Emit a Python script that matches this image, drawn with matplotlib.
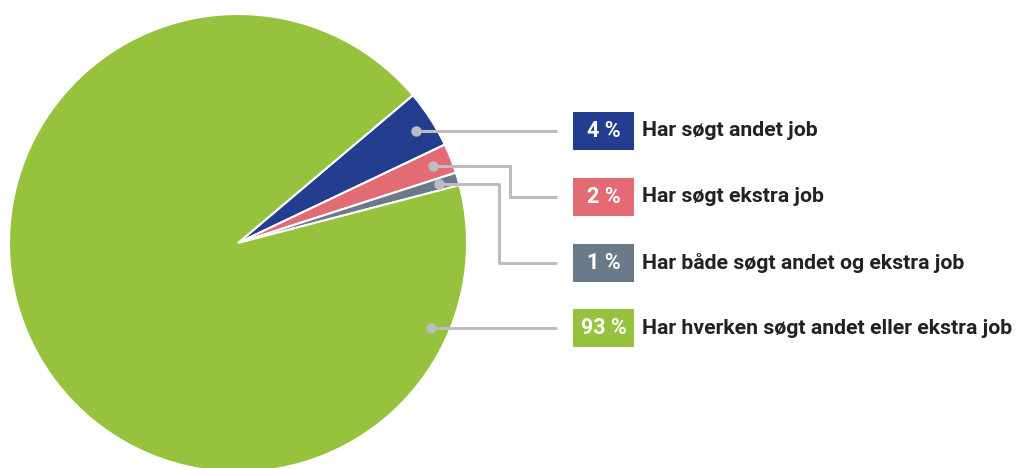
import numpy as np
import matplotlib.pyplot as plt
from matplotlib.patches import Rectangle

labels = ['Har søgt andet job', 'Har søgt ekstra job',
          'Har både søgt andet og ekstra job', 'Har hverken søgt andet eller ekstra job']
values = [4.1, 2.1, 0.9, 92.9]
pct_text = ['4 %', '2 %', '1 %', '93 %']
colors = ['#233d8f', '#e26b74', '#6b7a88', '#96c23e']

W, H = 1016, 468
fig = plt.figure(figsize=(W / 100, H / 100), dpi=100)
ax = fig.add_axes([0, 0, 1, 1])

cx, cy, R = 238, H - 243, 229
wedges, _ = ax.pie(values, colors=colors, startangle=40.2, counterclock=False,
                   center=(cx, cy), radius=R, frame=True,
                   wedgeprops=dict(edgecolor='white', linewidth=1.5))
ax.set_xlim(0, W)
ax.set_ylim(0, H)
ax.set_aspect('equal')
ax.axis('off')

line_c = '#bcbdc0'
row_y = [H - 131, H - 197, H - 263, H - 328]
elbow_x = [None, 510, 499, None]
line_end = 557
box_x0, box_x1 = 573, 634
box_h = 38
fam = ['Roboto', 'DejaVu Sans']

for i, w in enumerate(wedges):
    ry = row_y[i]
    if elbow_x[i] is None:
        # dot sits on the row of its label
        r = 0.92 * R
        py = ry
        px = cx + np.sqrt(r ** 2 - (py - cy) ** 2)
        xs, ys = [px, line_end], [py, ry]
    else:
        ang = np.deg2rad((w.theta1 + w.theta2) / 2)
        r = 0.915 * R
        px, py = cx + r * np.cos(ang), cy + r * np.sin(ang)
        xs, ys = [px, elbow_x[i], elbow_x[i], line_end], [py, py, ry, ry]
    ax.plot(xs, ys, color=line_c, lw=2.2, solid_capstyle='butt', zorder=3)
    ax.plot(px, py, 'o', color=line_c, ms=6.5, zorder=4)
    ax.add_patch(Rectangle((box_x0, ry - box_h / 2), box_x1 - box_x0, box_h,
                           color=colors[i], lw=0, zorder=3))
    ax.text((box_x0 + box_x1) / 2, ry, pct_text[i], color='white', fontsize=15.5,
            fontweight='bold', ha='center', va='center', family=fam, zorder=5)
    ax.text(642, ry, labels[i], color='#222222', fontsize=15.3,
            fontweight='bold', ha='left', va='center', family=fam, zorder=5)

fig.savefig('out.png', dpi=100)
